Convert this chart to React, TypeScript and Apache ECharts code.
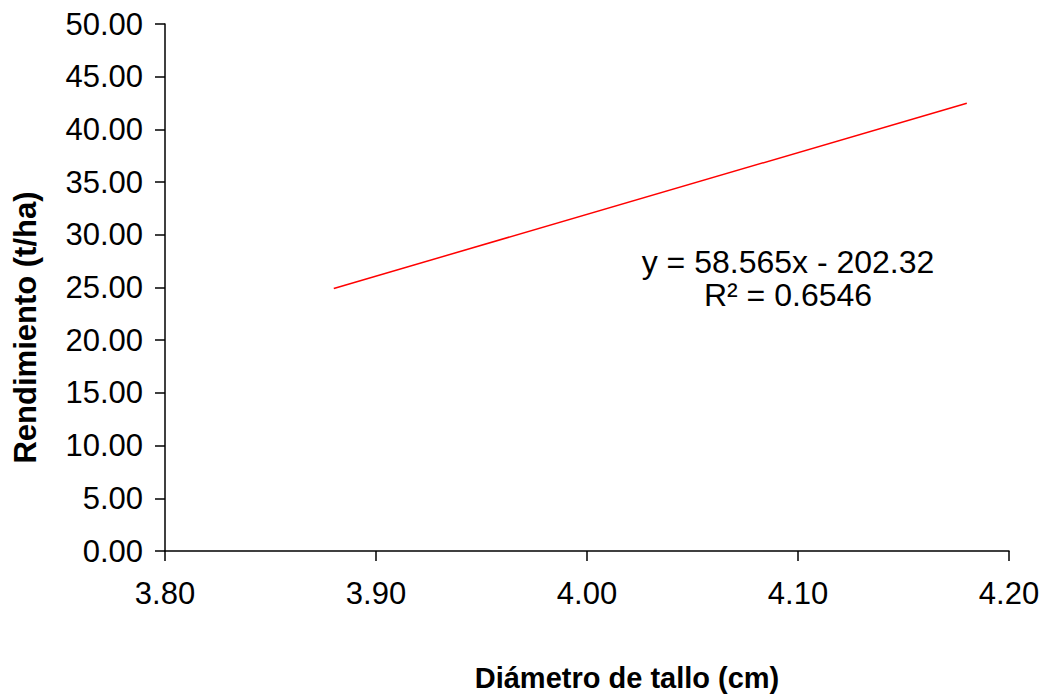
import React, { useEffect, useRef } from "react";
import * as echarts from "echarts";

const trendX = [3.88, 4.18];
const trendY = [24.91, 42.48];
const equation = "y = 58.565x - 202.32";
const rSquared = "R² = 0.6546";

export default function App() {
  const ref = useRef<HTMLDivElement>(null);
  useEffect(() => {
    document.body.style.margin = "0";
    const chart = echarts.init(ref.current!, null, { renderer: "svg" });
    const font = "'Liberation Sans', Arial, sans-serif";
    chart.setOption({
      animation: false,
      backgroundColor: "#fff",
      grid: { left: 165, right: 37, top: 24, bottom: 132 },
      xAxis: {
        type: "value", min: 3.8, max: 4.2, interval: 0.1,
        name: "Diámetro de tallo (cm)", nameLocation: "middle", nameGap: 112,
        nameTextStyle: { fontFamily: font, fontSize: 29, fontWeight: "bold", color: "#000", padding: [0, 0, 0, 80] },
        axisLine: { lineStyle: { color: "#000", width: 1.5 } },
        axisTick: { show: true, length: 10, lineStyle: { color: "#000", width: 1.5 } },
        axisLabel: { fontFamily: font, fontSize: 31, color: "#000", margin: 27, formatter: (v: number) => v.toFixed(2) },
        splitLine: { show: false },
      },
      yAxis: {
        type: "value", min: 0, max: 50, interval: 5,
        name: "Rendimiento (t/ha)", nameLocation: "middle", nameGap: 124,
        nameTextStyle: { fontFamily: font, fontSize: 31, fontWeight: "bold", color: "#000", padding: [0, 80, 0, 0] },
        axisLine: { show: true, lineStyle: { color: "#000", width: 1.5 } },
        axisTick: { show: true, length: 10, lineStyle: { color: "#000", width: 1.5 } },
        axisLabel: { fontFamily: font, fontSize: 31, color: "#000", margin: 22, formatter: (v: number) => v.toFixed(2) },
        splitLine: { show: false },
      },
      graphic: [
        { type: "text", x: 788, y: 262, style: { text: equation, fontFamily: font, fontSize: 32, fill: "#000", align: "center", verticalAlign: "middle" } },
        { type: "text", x: 788, y: 295, style: { text: rSquared, fontFamily: font, fontSize: 32, fill: "#000", align: "center", verticalAlign: "middle" } },
      ],
      series: [{
        type: "line", symbol: "none",
        data: trendX.map((x, i) => [x, trendY[i]]),
        lineStyle: { color: "#ff0000", width: 1.5 },
      }],
    });
    return () => chart.dispose();
  }, []);
  return <div ref={ref} style={{ width: 1046, height: 697 }} />;
}
